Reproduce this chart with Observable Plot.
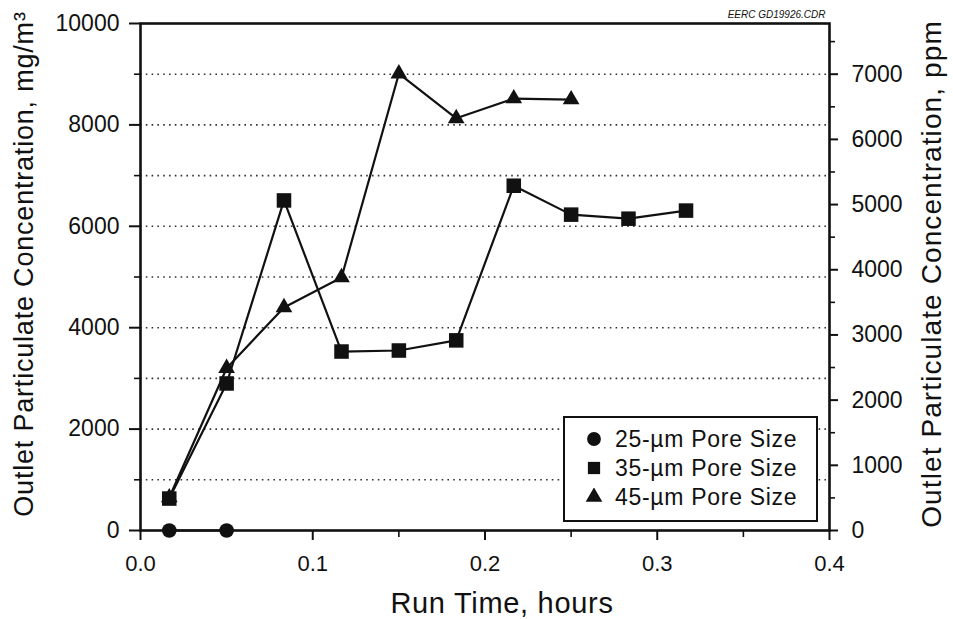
<!DOCTYPE html>
<html>
<head>
<meta charset="utf-8">
<script src="https://cdn.jsdelivr.net/npm/d3@7"></script>
<script src="https://cdn.jsdelivr.net/npm/@observablehq/plot@0.6"></script>
<style>
  html, body { margin: 0; padding: 0; background: white; }
  #wrap { position: relative; width: 953px; height: 619px; }
  #legend {
    position: absolute; left: 563px; top: 416px; width: 251px; height: 102px;
    border: 2px solid #111; background: white;
    font-family: "Liberation Sans", Arial, sans-serif; font-size: 23px; color: #111;
    letter-spacing: 0.7px;
  }
  #legend .row { position: absolute; left: 0; height: 28px; display: flex; align-items: center; }
  #legend svg { margin-left: 20px; margin-right: 12px; }
</style>
</head>
<body>
<div id="wrap"></div>
<script>
// ---- data (run time in hours, concentration in mg/m3) ----
const seriesNames = ["25-µm Pore Size", "35-µm Pore Size", "45-µm Pore Size"];
const seriesSymbols = ["circle", "square", "triangle"];

const time25 = [0.0167, 0.05];
const conc25 = [0, 0];

const time35 = [0.0167, 0.05, 0.0833, 0.1167, 0.15, 0.1833, 0.2167, 0.25, 0.2833, 0.3167];
const conc35 = [630, 2900, 6510, 3530, 3550, 3750, 6800, 6230, 6150, 6310];

const time45 = [0.0167, 0.05, 0.0833, 0.1167, 0.15, 0.1833, 0.2167, 0.25];
const conc45 = [650, 3200, 4400, 4990, 9010, 8130, 8520, 8500];

const xTicks = [0, 0.1, 0.2, 0.3, 0.4];
const xMinorTicks = [0.05, 0.15, 0.25, 0.35];
const leftTicks = [0, 2000, 4000, 6000, 8000, 10000];
const leftMinorTicks = [1000, 3000, 5000, 7000, 9000];
const gridValues = [1000, 2000, 3000, 4000, 5000, 6000, 7000, 8000, 9000];
const rightTicksPpm = [0, 1000, 2000, 3000, 4000, 5000, 6000, 7000];
const rightMinorPpm = [500, 1500, 2500, 3500, 4500, 5500, 6500, 7500];
const mgPerPpm = 9 / 7;

const xLabel = "Run Time, hours";
const yLeftLabel = "Outlet Particulate Concentration, mg/m³";
const yRightLabel = "Outlet Particulate Concentration, ppm";
const fileTag = "EERC GD19926.CDR";

// ---- build tables ----
const toRows = (t, c, name) => t.map((x, i) => ({x, y: c[i], series: name}));
const rows25 = toRows(time25, conc25, seriesNames[0]);
const rows35 = toRows(time35, conc35, seriesNames[1]);
const rows45 = toRows(time45, conc45, seriesNames[2]);

const font = "'Liberation Sans', Arial, Helvetica, sans-serif";
const ink = "#111";

const chart = Plot.plot({
  width: 953,
  height: 619,
  marginLeft: 140,
  marginRight: 124,
  marginTop: 23,
  marginBottom: 89,
  style: {fontFamily: font, color: ink, background: "white", overflow: "visible"},
  x: {domain: [0, 0.4]},
  y: {domain: [0, 10000]},
  marks: [
    Plot.ruleY(gridValues, {stroke: "#333", strokeWidth: 1.6, strokeDasharray: "1.6,4.2"}),
    // left axis
    Plot.axisY({ticks: leftTicks, tickSize: 11, tickPadding: 10, tickFormat: d => String(d),
      fontSize: 23, label: null, strokeWidth: 2, style: {letterSpacing: "0.4px"}}),
    Plot.axisY({ticks: leftMinorTicks, tickSize: 6, tickFormat: () => "", label: null, strokeWidth: 1.6}),
    // right axis (ppm)
    Plot.axisY({anchor: "right", ticks: rightTicksPpm.map(p => p * mgPerPpm), tickSize: 8, tickPadding: 14,
      tickFormat: d => String(Math.round(d / mgPerPpm)), fontSize: 23, label: null, strokeWidth: 2,
      style: {letterSpacing: "0.4px"}}),
    Plot.axisY({anchor: "right", ticks: rightMinorPpm.map(p => p * mgPerPpm), tickSize: 5,
      tickFormat: () => "", label: null, strokeWidth: 1.6}),
    // x axis
    Plot.axisX({ticks: xTicks, tickSize: 10, tickPadding: 15, tickFormat: d => d.toFixed(1),
      fontSize: 22, label: null, strokeWidth: 2, style: {letterSpacing: "0.4px"}}),
    Plot.axisX({ticks: xMinorTicks, tickSize: 7, tickFormat: () => "", label: null, strokeWidth: 1.6}),
    Plot.frame({stroke: ink, strokeWidth: 2.6}),
    // data
    Plot.line(rows45, {x: "x", y: "y", stroke: ink, strokeWidth: 2.2}),
    Plot.line(rows35, {x: "x", y: "y", stroke: ink, strokeWidth: 2.2}),
    Plot.line(rows25, {x: "x", y: "y", stroke: ink, strokeWidth: 2.2}),
    Plot.dot(rows45, {x: "x", y: "y", symbol: "triangle", r: 6.2, fill: ink, stroke: "none"}),
    Plot.dot(rows35, {x: "x", y: "y", symbol: "square", r: 8.2, fill: ink, stroke: "none"}),
    Plot.dot(rows25, {x: "x", y: "y", symbol: "circle", r: 7.3, fill: ink, stroke: "none"}),
    Plot.text([fileTag], {frameAnchor: "top-right", dx: -4, dy: -6, text: d => d, fontSize: 10,
      fontStyle: "italic", textAnchor: "end", fill: ink, lineAnchor: "bottom"})
  ]
});

const wrap = document.getElementById("wrap");
wrap.appendChild(chart);

// axis titles, placed in the plot's svg
const svg = d3.select(chart.tagName.toLowerCase() === "svg" ? chart : chart.querySelector("svg"));
function addTitle(text, x, y, rotate, size, spacing) {
  svg.append("text")
    .attr("transform", `translate(${x},${y}) rotate(${rotate})`)
    .attr("text-anchor", "middle")
    .attr("dominant-baseline", "central")
    .attr("font-family", font)
    .attr("font-size", size)
    .attr("fill", ink)
    .style("letter-spacing", spacing + "px")
    .text(text);
}
addTitle(xLabel, 502, 603, 0, 29, 0.7);
addTitle(yLeftLabel, 24, 264, -90, 27, 0.8);
addTitle(yRightLabel, 931, 274, -90, 28, 1.1);

// legend
const legend = document.createElement("div");
legend.id = "legend";
seriesNames.forEach((name, i) => {
  const row = document.createElement("div");
  row.className = "row";
  row.style.top = (7 + i * 29) + "px";
  const sym = d3.create("svg").attr("width", 18).attr("height", 18);
  sym.append("path")
    .attr("transform", "translate(9,9)")
    .attr("fill", ink)
    .attr("d", d3.symbol(
      seriesSymbols[i] === "circle" ? d3.symbolCircle : seriesSymbols[i] === "square" ? d3.symbolSquare : d3.symbolTriangle,
      seriesSymbols[i] === "circle" ? 150 : seriesSymbols[i] === "square" ? 150 : 120)());
  row.appendChild(sym.node());
  const label = document.createElement("span");
  label.textContent = name;
  row.appendChild(label);
  legend.appendChild(row);
});
wrap.appendChild(legend);
</script>
</body>
</html>
